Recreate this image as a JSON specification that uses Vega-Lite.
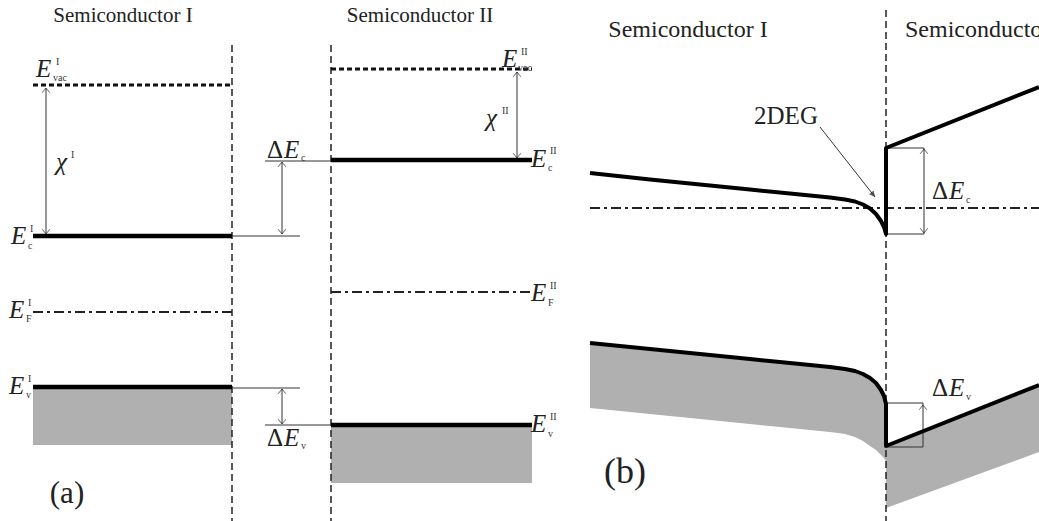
{
  "$schema": "https://vega.github.io/schema/vega-lite/v6.json",
  "width": 1039,
  "height": 521,
  "padding": 0,
  "autosize": {"type": "none"},
  "background": "white",
  "config": {"view": {"stroke": null}},
  "datasets": {
    "shadeRect": [
      {"x": 33, "x2": 232, "y": 389, "y2": 445},
      {"x": 331, "x2": 532, "y": 427, "y2": 483}
    ],
    "shadeI": [
      {"x": 590, "y": 343, "y2": 408},
      {"x": 650, "y": 349, "y2": 414},
      {"x": 700, "y": 354, "y2": 419},
      {"x": 750, "y": 359, "y2": 424},
      {"x": 800, "y": 364, "y2": 429},
      {"x": 830, "y": 367, "y2": 432},
      {"x": 845, "y": 369, "y2": 434},
      {"x": 855, "y": 371, "y2": 437},
      {"x": 863, "y": 374, "y2": 441},
      {"x": 870, "y": 378, "y2": 446},
      {"x": 876, "y": 383, "y2": 450},
      {"x": 881, "y": 390, "y2": 455},
      {"x": 884, "y": 396, "y2": 458},
      {"x": 886, "y": 404, "y2": 461}
    ],
    "shadeII": [
      {"x": 886, "y": 446, "y2": 508},
      {"x": 1039, "y": 385, "y2": 452}
    ],
    "iface": [
      {"x": 232, "y": 45, "x2": 232, "y2": 521},
      {"x": 331, "y": 45, "x2": 331, "y2": 521},
      {"x": 886, "y": 10, "x2": 886, "y2": 521}
    ],
    "vac": [
      {"x": 33, "y": 85, "x2": 232, "y2": 85},
      {"x": 331, "y": 69, "x2": 532, "y2": 69}
    ],
    "fermi": [
      {"x": 33, "y": 312, "x2": 232, "y2": 312},
      {"x": 331, "y": 292, "x2": 532, "y2": 292},
      {"x": 590, "y": 208, "x2": 1039, "y2": 208}
    ],
    "thin": [
      {"x": 232, "y": 236, "x2": 300, "y2": 236},
      {"x": 265, "y": 161, "x2": 331, "y2": 161},
      {"x": 282, "y": 162, "x2": 282, "y2": 234},
      {"x": 46, "y": 88, "x2": 46, "y2": 234},
      {"x": 517, "y": 72, "x2": 517, "y2": 158},
      {"x": 232, "y": 388, "x2": 300, "y2": 388},
      {"x": 265, "y": 425, "x2": 331, "y2": 425},
      {"x": 282, "y": 389, "x2": 282, "y2": 424},
      {"x": 886, "y": 148, "x2": 924, "y2": 148},
      {"x": 886, "y": 234, "x2": 924, "y2": 234},
      {"x": 924, "y": 148, "x2": 924, "y2": 234},
      {"x": 886, "y": 403, "x2": 923, "y2": 403},
      {"x": 886, "y": 447, "x2": 923, "y2": 447},
      {"x": 923, "y": 403, "x2": 923, "y2": 447},
      {"x": 820, "y": 127, "x2": 875, "y2": 197}
    ],
    "thick": [
      {"x": 33, "y": 236, "x2": 232, "y2": 236},
      {"x": 331, "y": 160, "x2": 532, "y2": 160},
      {"x": 33, "y": 387, "x2": 232, "y2": 387},
      {"x": 331, "y": 425, "x2": 532, "y2": 425}
    ],
    "bands": [
      {"band": "cb", "i": 1, "x": 590, "y": 173},
      {"band": "cb", "i": 2, "x": 650, "y": 179.5},
      {"band": "cb", "i": 3, "x": 700, "y": 184.5},
      {"band": "cb", "i": 4, "x": 750, "y": 189.5},
      {"band": "cb", "i": 5, "x": 800, "y": 194.5},
      {"band": "cb", "i": 6, "x": 830, "y": 197.5},
      {"band": "cb", "i": 7, "x": 845, "y": 199.5},
      {"band": "cb", "i": 8, "x": 855, "y": 201.5},
      {"band": "cb", "i": 9, "x": 863, "y": 204.5},
      {"band": "cb", "i": 10, "x": 870, "y": 208.5},
      {"band": "cb", "i": 11, "x": 876, "y": 214},
      {"band": "cb", "i": 12, "x": 881, "y": 221},
      {"band": "cb", "i": 13, "x": 884, "y": 227},
      {"band": "cb", "i": 14, "x": 886, "y": 234},
      {"band": "cb", "i": 15, "x": 886, "y": 148},
      {"band": "cb", "i": 16, "x": 1039, "y": 87},
      {"band": "vb", "i": 1, "x": 590, "y": 343},
      {"band": "vb", "i": 2, "x": 650, "y": 349},
      {"band": "vb", "i": 3, "x": 700, "y": 354},
      {"band": "vb", "i": 4, "x": 750, "y": 359},
      {"band": "vb", "i": 5, "x": 800, "y": 364},
      {"band": "vb", "i": 6, "x": 830, "y": 367},
      {"band": "vb", "i": 7, "x": 845, "y": 369},
      {"band": "vb", "i": 8, "x": 855, "y": 371},
      {"band": "vb", "i": 9, "x": 863, "y": 374},
      {"band": "vb", "i": 10, "x": 870, "y": 378},
      {"band": "vb", "i": 11, "x": 876, "y": 383},
      {"band": "vb", "i": 12, "x": 881, "y": 390},
      {"band": "vb", "i": 13, "x": 884, "y": 396},
      {"band": "vb", "i": 14, "x": 886, "y": 404},
      {"band": "vb", "i": 15, "x": 886, "y": 446},
      {"band": "vb", "i": 16, "x": 1039, "y": 385}
    ],
    "headsUp": [
      {"x": 46, "y": 88},
      {"x": 517, "y": 72},
      {"x": 282, "y": 162},
      {"x": 282, "y": 389},
      {"x": 924, "y": 149},
      {"x": 923, "y": 405}
    ],
    "headsDown": [
      {"x": 46, "y": 234},
      {"x": 517, "y": 158},
      {"x": 282, "y": 234},
      {"x": 282, "y": 424},
      {"x": 924, "y": 233}
    ],
    "headsDiag": [
      {"x": 875, "y": 197}
    ],
    "uprightC": [
      {"t": "Semiconductor I", "x": 123, "y": 22, "role": "titleA"},
      {"t": "Semiconductor II", "x": 420, "y": 22, "role": "titleA"},
      {"t": "Semiconductor I", "x": 688, "y": 37, "role": "titleB"},
      {"t": "2DEG", "x": 786, "y": 124, "role": "labelB"},
      {"t": "(a)", "x": 67, "y": 503, "role": "panelA"},
      {"t": "(b)", "x": 625, "y": 483, "role": "panelB"}
    ],
    "uprightL": [
      {"t": "Semiconductor II", "x": 905, "y": 37, "role": "titleB"}
    ],
    "uprightR": [
      {"t": "Δ", "x": 283, "y": 158, "role": "symA"},
      {"t": "Δ", "x": 283, "y": 446, "role": "symA"},
      {"t": "Δ", "x": 948, "y": 199, "role": "labelB"},
      {"t": "Δ", "x": 948, "y": 396, "role": "labelB"}
    ],
    "italic": [
      {"t": "E", "x": 36, "y": 77, "role": "symA"},
      {"t": "χ", "x": 56, "y": 170, "role": "symA"},
      {"t": "E", "x": 11, "y": 244, "role": "symA"},
      {"t": "E", "x": 9, "y": 318, "role": "symA"},
      {"t": "E", "x": 9, "y": 394, "role": "symA"},
      {"t": "E", "x": 284, "y": 158, "role": "symA"},
      {"t": "E", "x": 284, "y": 446, "role": "symA"},
      {"t": "E", "x": 502, "y": 67, "role": "symA"},
      {"t": "χ", "x": 486, "y": 126, "role": "symA"},
      {"t": "E", "x": 531, "y": 167, "role": "symA"},
      {"t": "E", "x": 531, "y": 301, "role": "symA"},
      {"t": "E", "x": 531, "y": 432, "role": "symA"},
      {"t": "E", "x": 949, "y": 199, "role": "labelB"},
      {"t": "E", "x": 949, "y": 396, "role": "labelB"}
    ],
    "small": [
      {"t": "I", "x": 56, "y": 65},
      {"t": "vac", "x": 53, "y": 81},
      {"t": "I", "x": 71, "y": 158},
      {"t": "I", "x": 30, "y": 232},
      {"t": "c", "x": 28, "y": 249},
      {"t": "I", "x": 28, "y": 306},
      {"t": "F", "x": 26, "y": 322},
      {"t": "I", "x": 28, "y": 382},
      {"t": "v", "x": 26, "y": 398},
      {"t": "c", "x": 301, "y": 161},
      {"t": "v", "x": 301, "y": 449},
      {"t": "II", "x": 521, "y": 55},
      {"t": "vac", "x": 518, "y": 71},
      {"t": "II", "x": 502, "y": 114},
      {"t": "II", "x": 550, "y": 154},
      {"t": "c", "x": 548, "y": 171},
      {"t": "II", "x": 550, "y": 289},
      {"t": "F", "x": 548, "y": 306},
      {"t": "II", "x": 550, "y": 420},
      {"t": "v", "x": 548, "y": 437},
      {"t": "c", "x": 966, "y": 203},
      {"t": "v", "x": 966, "y": 400}
    ]
  },
  "encoding": {
    "x": {"field": "x", "type": "quantitative", "axis": null, "scale": {"domain": [0, 1039], "nice": false, "zero": false}},
    "y": {"field": "y", "type": "quantitative", "axis": null, "scale": {"domain": [0, 521], "nice": false, "zero": false, "reverse": true}}
  },
  "layer": [
    {
      "data": {"name": "shadeRect"},
      "mark": {"type": "rect", "fill": "#b0b0b0"},
      "encoding": {"x2": {"field": "x2"}, "y2": {"field": "y2"}}
    },
    {
      "data": {"name": "shadeI"},
      "mark": {"type": "area", "fill": "#b0b0b0", "orient": "vertical"},
      "encoding": {"y2": {"field": "y2"}}
    },
    {
      "data": {"name": "shadeII"},
      "mark": {"type": "area", "fill": "#b0b0b0", "orient": "vertical"},
      "encoding": {"y2": {"field": "y2"}}
    },
    {
      "data": {"name": "iface"},
      "mark": {"type": "rule", "color": "#222", "strokeWidth": 1.5, "strokeDash": [7, 4]},
      "encoding": {"x2": {"field": "x2"}, "y2": {"field": "y2"}}
    },
    {
      "data": {"name": "vac"},
      "mark": {"type": "rule", "color": "#111", "strokeWidth": 3, "strokeDash": [5, 3]},
      "encoding": {"x2": {"field": "x2"}, "y2": {"field": "y2"}}
    },
    {
      "data": {"name": "fermi"},
      "mark": {"type": "rule", "color": "#222", "strokeWidth": 2, "strokeDash": [10, 4, 3, 4]},
      "encoding": {"x2": {"field": "x2"}, "y2": {"field": "y2"}}
    },
    {
      "data": {"name": "thin"},
      "mark": {"type": "rule", "color": "#333", "strokeWidth": 1},
      "encoding": {"x2": {"field": "x2"}, "y2": {"field": "y2"}}
    },
    {
      "data": {"name": "thick"},
      "mark": {"type": "rule", "color": "black", "strokeWidth": 4.5},
      "encoding": {"x2": {"field": "x2"}, "y2": {"field": "y2"}}
    },
    {
      "data": {"name": "bands"},
      "mark": {"type": "line", "color": "black", "strokeWidth": 4, "strokeJoin": "round", "strokeCap": "butt"},
      "encoding": {"detail": {"field": "band"}, "order": {"field": "i", "type": "quantitative"}}
    },
    {
      "data": {"name": "headsUp"},
      "mark": {"type": "point", "shape": "M-0.8,1L0,0L0.8,1", "filled": false, "stroke": "#222", "strokeWidth": 1, "size": 90, "angle": 0}
    },
    {
      "data": {"name": "headsDown"},
      "mark": {"type": "point", "shape": "M-0.8,1L0,0L0.8,1", "filled": false, "stroke": "#222", "strokeWidth": 1, "size": 90, "angle": 180}
    },
    {
      "data": {"name": "headsDiag"},
      "mark": {"type": "point", "shape": "M-0.7,1.4L0,0L0.7,1.4Z", "filled": true, "fill": "#222", "strokeWidth": 0, "size": 70, "angle": 142}
    },
    {
      "data": {"name": "uprightC"},
      "mark": {"type": "text", "font": "Liberation Serif", "baseline": "alphabetic", "align": "center", "color": "#222"},
      "encoding": {
        "text": {"field": "t"},
        "size": {"field": "role", "type": "nominal", "legend": null, "scale": {"type": "ordinal", "domain": ["titleA", "titleB", "labelB", "panelA", "panelB", "symA"], "range": [21, 24, 25, 31, 36, 25]}}
      }
    },
    {
      "data": {"name": "uprightL"},
      "mark": {"type": "text", "font": "Liberation Serif", "baseline": "alphabetic", "align": "left", "color": "#222"},
      "encoding": {
        "text": {"field": "t"},
        "size": {"field": "role", "type": "nominal", "legend": null, "scale": {"type": "ordinal", "domain": ["titleA", "titleB", "labelB", "panelA", "panelB", "symA"], "range": [21, 24, 25, 31, 36, 25]}}
      }
    },
    {
      "data": {"name": "uprightR"},
      "mark": {"type": "text", "font": "Liberation Serif", "baseline": "alphabetic", "align": "right", "color": "#222"},
      "encoding": {
        "text": {"field": "t"},
        "size": {"field": "role", "type": "nominal", "legend": null, "scale": {"type": "ordinal", "domain": ["titleA", "titleB", "labelB", "panelA", "panelB", "symA"], "range": [21, 24, 25, 31, 36, 25]}}
      }
    },
    {
      "data": {"name": "italic"},
      "mark": {"type": "text", "font": "Liberation Serif", "fontStyle": "italic", "baseline": "alphabetic", "align": "left", "color": "#222"},
      "encoding": {
        "text": {"field": "t"},
        "size": {"field": "role", "type": "nominal", "legend": null, "scale": {"type": "ordinal", "domain": ["titleA", "titleB", "labelB", "panelA", "panelB", "symA"], "range": [21, 24, 25, 31, 36, 25]}}
      }
    },
    {
      "data": {"name": "small"},
      "mark": {"type": "text", "font": "Liberation Serif", "baseline": "alphabetic", "align": "left", "fontSize": 10, "color": "#333"},
      "encoding": {"text": {"field": "t"}}
    }
  ]
}
